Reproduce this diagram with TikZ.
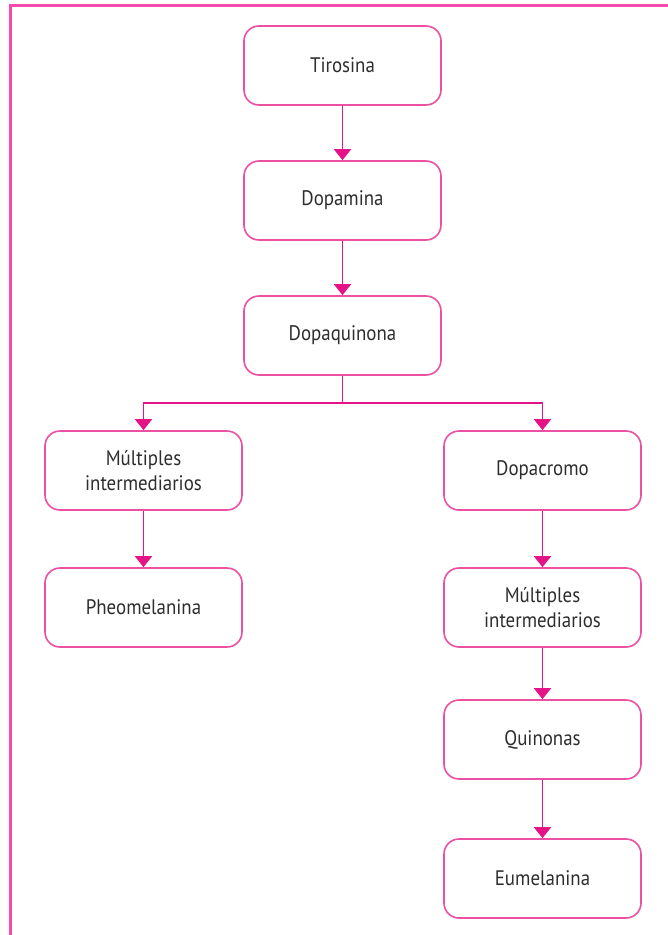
\documentclass[tikz,border=0pt]{standalone}
\usepackage{fontspec}
\setmainfont{PT Sans}[FakeStretch=0.9]
\usepackage{tikz}
\usetikzlibrary{%
  arrows.meta,%
  shapes.misc
}
\definecolor{rosa}{RGB}{228,20,136}
\definecolor{rosaclaro}{RGB}{236,80,162}
\definecolor{marco}{RGB}{245,75,172}
\definecolor{texto}{RGB}{45,45,45}

\begin{document}
\begin{tikzpicture}[x=1pt,y=-1pt,
    caja/.style={draw=rosaclaro,line width=1.6pt,rounded corners=15pt,
      minimum width=197pt,minimum height=79pt,align=center,
      text=texto,font=\fontsize{21}{25}\selectfont},
    flecha/.style={draw=rosa,line width=1.8pt,
      -{Triangle[width=17pt,length=11pt]}}
  ]
        \useasboundingbox (0,0) rectangle (668,935);
        \draw [marco,line width=3pt] (10.5,935) -- (10.5,5.5) -- (668,5.5);
        % columna central
        \node [caja] (tir) at (342.5,65.5) {Tirosina};
        \node [caja] (dpm) at (342.5,200.5) {Dopamina};
        \node [caja] (dpq) at (342.5,335.5) {Dopaquinona};
        % rama izquierda
        \node [caja] (mul1) at (143.5,470.5) {Múltiples\\intermediarios};
        \node [caja] (pheo) at (143.5,607.5) {Pheomelanina};
        % rama derecha
        \node [caja] (dpc) at (542.5,470.5) {Dopacromo};
        \node [caja] (mul2) at (542.5,607.5) {Múltiples\\intermediarios};
        \node [caja] (qui) at (542.5,739.5) {Quinonas};
        \node [caja] (eum) at (542.5,878.5) {Eumelanina};
        \coordinate (rama) at (342.5,403);
        \begin{scope}
          \draw [flecha] (tir) -- (dpm);
          \draw [flecha] (dpm) -- (dpq);
          \draw [draw=rosa,line width=1.8pt] (dpq) -- (rama);
          \draw [flecha] (rama) -| (mul1);
          \draw [flecha] (rama) -| (dpc);
          \draw [flecha] (mul1) -- (pheo);
          \draw [flecha] (dpc) -- (mul2);
          \draw [flecha] (mul2) -- (qui);
          \draw [flecha] (qui) -- (eum);
        \end{scope}
      \end{tikzpicture}
\end{document}
